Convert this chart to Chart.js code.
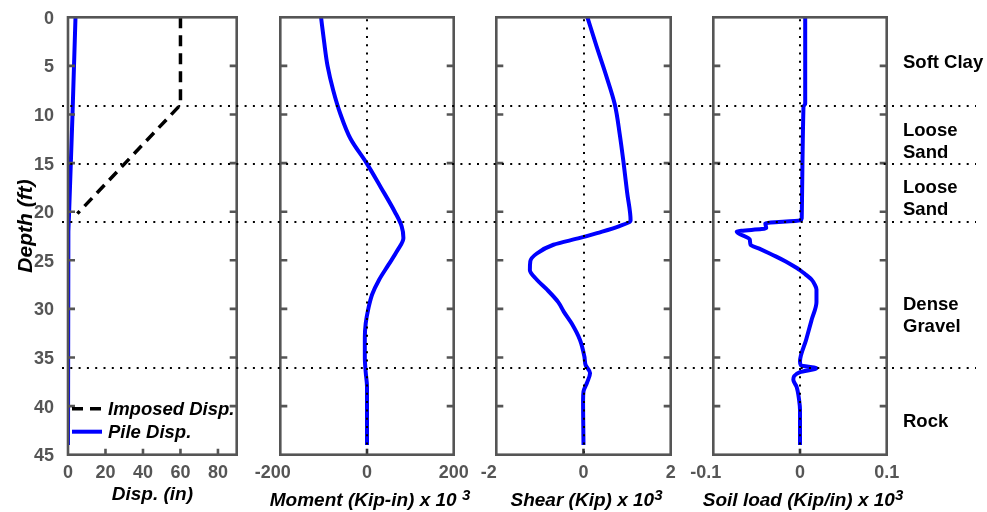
<!DOCTYPE html>
<html><head><meta charset="utf-8">
<script src="https://cdn.jsdelivr.net/npm/chart.js@4.4.1/dist/chart.umd.min.js"></script>
<style>
html,body{margin:0;padding:0;background:#fff;}
#wrap{position:relative;width:987px;height:512px;overflow:hidden;background:#fff;}
#wrap canvas{position:absolute;left:0;top:0;}
</style></head><body>
<div id="wrap">
<canvas id="c1" width="987" height="512"></canvas>
<canvas id="c2" width="987" height="512"></canvas>
<canvas id="c3" width="987" height="512"></canvas>
<canvas id="c4" width="987" height="512"></canvas>
</div>
<script>
// ---------- DATA ----------
const depthTicks = [0, 5, 10, 15, 20, 25, 30, 35, 40, 45];
const layerBounds = [9, 15, 21, 36];
const layerLabels = [['Soft Clay'], ['Loose', 'Sand'], ['Loose', 'Sand'], ['Dense', 'Gravel'], ['Rock']];
const layerLabelDepth = [4.6, 12.7, 18.6, 30.6, 41.5];

const dispTicks = [0, 20, 40, 60, 80];
const momentTicks = [-200, 0, 200];
const shearTicks = [-2, 0, 2];
const soilTicks = [-0.1, 0, 0.1];

const yTitle = 'Depth (ft)';
const xTitles = ['Disp. (in)', 'Moment (Kip-in) x 10 ', 'Shear (Kip) x 10', 'Soil load (Kip/in) x 10'];
const xTitleSups = ['', '3', '3', '3'];

const imposedDepth = [0, 9, 20.2];
const imposedDisp  = [60, 60, 5];

const pileDepth = [0, 5, 10, 15, 20, 22, 30, 44];
const pileDisp  = [4, 3.2, 2.4, 1.5, 0.6, 0.2, 0, 0];

const momentDepth = [0, 2.5, 5, 7.5, 10, 12.5, 15, 17.5, 20, 21.5, 22.7, 24, 25.5, 27, 28.5, 30, 31.5, 33, 35, 36.5, 38, 44];
const momentVal   = [-106, -99, -91, -78, -61, -38, -1, 32, 64, 80, 84, 70, 49, 28, 12, 3, -3, -5, -5, -3, 0, 0];

const shearDepth = [0, 3, 6, 9, 12, 15, 18, 20.9, 21.5, 22.2, 22.7, 23.4, 24.3, 25.1, 26, 27, 28, 29.3, 30.3, 31.5, 33.2, 34.9, 35.8, 36.6, 37.6, 38.5, 39.4, 44];
const shearVal   = [0.09, 0.3, 0.52, 0.72, 0.83, 0.92, 1.0, 1.08, 0.81, 0.31, -0.08, -0.69, -1.07, -1.22, -1.23, -1.07, -0.84, -0.58, -0.45, -0.27, -0.08, 0.02, 0.05, 0.15, 0.08, 0, -0.01, 0];

const soilDepth = [0, 8.9, 9.2, 20.7, 20.9, 21.2, 21.7, 22.05, 22.85, 23.4, 23.8, 24.3, 24.6, 25.1, 25.5, 26, 26.5, 27, 27.5, 28, 29.3, 31.1, 33.2, 35.4, 35.8, 36.1, 36.5, 37.3, 38, 39.4, 40.4, 44];
const soilVal   = [0.006, 0.006, 0.004, 0.002, 0, -0.040, -0.039, -0.073, -0.058, -0.057, -0.047, -0.035, -0.028, -0.017, -0.009, 0, 0.007, 0.0135, 0.017, 0.019, 0.019, 0.0135, 0.007, 0, 0.001, 0.019, 0, -0.0077, -0.004, -0.001, 0, 0];

// ---------- HELPERS ----------
const FONT = "'Liberation Sans', Arial, Helvetica, sans-serif";
const pts = (ds, vs) => ds.map((d, i) => ({x: vs[i], y: d}));
const BLUE = '#0000ff';
const TOP = 17.3, BOTTOM = 454.7, W = 987, H = 512;

const panels = [
  {id: 'c1', left: 68, right: 236.7, xMin: 0, xMax: 90, ticks: dispTicks, yAxis: true, zero: false,
   datasets: [
     {label: 'Imposed Disp.', data: pts(imposedDepth, imposedDisp), borderColor: '#000', borderWidth: 3.5, borderDash: [11, 7], tension: 0},
     {label: 'Pile Disp.', data: pts(pileDepth, pileDisp), borderColor: BLUE, borderWidth: 4, tension: 0}
   ]},
  {id: 'c2', left: 280.3, right: 453.7, xMin: -200, xMax: 200, ticks: momentTicks, zero: true,
   datasets: [{label: 'Moment', data: pts(momentDepth, momentVal), borderColor: BLUE, borderWidth: 4, cubicInterpolationMode: 'monotone'}]},
  {id: 'c3', left: 496.3, right: 670.7, xMin: -2, xMax: 2, ticks: shearTicks, zero: true,
   datasets: [{label: 'Shear', data: pts(shearDepth, shearVal), borderColor: BLUE, borderWidth: 4, cubicInterpolationMode: 'monotone'}]},
  {id: 'c4', left: 713.3, right: 886.7, xMin: -0.1, xMax: 0.1, ticks: soilTicks, zero: true,
   datasets: [{label: 'Soil load', data: pts(soilDepth, soilVal), borderColor: BLUE, borderWidth: 4, cubicInterpolationMode: 'monotone'}]}
];

const framePlugin = {
  id: 'frame',
  afterDatasetsDraw(chart, args, opts) {
    const {ctx, chartArea: a, scales: {x, y}} = chart;
    ctx.save();
    if (opts.zero) {
      ctx.strokeStyle = '#000'; ctx.lineWidth = 2; ctx.setLineDash([2, 6.3]);
      const px = Math.round(x.getPixelForValue(0));
      ctx.beginPath(); ctx.moveTo(px, a.top + 2); ctx.lineTo(px, a.bottom); ctx.stroke();
    }
    ctx.setLineDash([]);
    ctx.strokeStyle = '#555'; ctx.lineWidth = 2.6;
    ctx.beginPath();
    depthTicks.forEach(d => {
      if (d <= y.min || d >= y.max) return;
      const py = y.getPixelForValue(d);
      ctx.moveTo(a.left, py); ctx.lineTo(a.left + 7, py);
      ctx.moveTo(a.right, py); ctx.lineTo(a.right - 7, py);
    });
    ctx.stroke();
    ctx.strokeStyle = opts.zero ? '#333' : '#555';
    ctx.beginPath();
    x.ticks.forEach(t => {
      if (t.value <= x.min || t.value >= x.max) return;
      const px = x.getPixelForValue(t.value);
      ctx.moveTo(px, a.bottom); ctx.lineTo(px, a.bottom - 6);
    });
    ctx.stroke();
    ctx.strokeStyle = '#555';
    ctx.strokeRect(a.left, a.top, a.right - a.left, a.bottom - a.top);

    // x-axis title with optional superscript
    const main = opts.title, sup = opts.sup;
    ctx.fillStyle = '#000';
    ctx.textBaseline = 'alphabetic'; ctx.textAlign = 'left';
    ctx.font = `italic bold 19px ${FONT}`;
    const w1 = ctx.measureText(main).width;
    ctx.font = `italic bold 15px ${FONT}`;
    const w2 = sup ? ctx.measureText(sup).width : 0;
    const cx = (a.left + a.right) / 2 + (sup ? 3 : 0);
    const x0 = cx - (w1 + w2) / 2;
    const base = sup ? a.bottom + 51 : a.bottom + 45;
    ctx.font = `italic bold 19px ${FONT}`;
    ctx.fillText(main, x0, base);
    if (sup) {
      ctx.font = `italic bold 15px ${FONT}`;
      ctx.fillText(sup, x0 + w1, base - 6);
    }
    // y-axis title
    if (opts.yTitle) {
      ctx.save();
      ctx.translate(a.left - 42, (a.top + a.bottom) / 2 - 10);
      ctx.rotate(-Math.PI / 2);
      ctx.font = `italic bold 21px ${FONT}`;
      ctx.textAlign = 'center'; ctx.textBaseline = 'middle';
      ctx.fillText(opts.yTitle, 0, 0);
      ctx.restore();
    }
    ctx.restore();
  }
};

const legendPlugin = {
  id: 'inlegend',
  afterDraw(chart) {
    const {ctx, chartArea: a} = chart;
    ctx.save();
    ctx.font = `italic bold 18.5px ${FONT}`;
    ctx.textBaseline = 'middle';
    ctx.fillStyle = '#000';
    chart.data.datasets.forEach((ds, i) => {
      const yy = a.bottom - 46 + i * 23;
      ctx.strokeStyle = ds.borderColor; ctx.lineWidth = ds.borderWidth;
      ctx.setLineDash(ds.borderDash || []);
      ctx.beginPath(); ctx.moveTo(a.left + 4, yy); ctx.lineTo(a.left + 34, yy); ctx.stroke();
      ctx.setLineDash([]);
      ctx.fillText(ds.label, a.left + 40, yy + 1);
    });
    ctx.restore();
  }
};

const layerPlugin = {
  id: 'layers',
  afterDraw(chart) {
    const {ctx, scales: {y}} = chart;
    ctx.save();
    ctx.strokeStyle = '#000'; ctx.lineWidth = 2; ctx.setLineDash([2, 6.3]);
    ctx.beginPath();
    layerBounds.forEach(d => {
      const py = Math.round(y.getPixelForValue(d)) + 1;
      ctx.moveTo(panels[0].left - 6, py); ctx.lineTo(976, py);
    });
    ctx.stroke();
    ctx.setLineDash([]);
    ctx.fillStyle = '#000';
    ctx.font = `bold 18.5px ${FONT}`;
    ctx.textBaseline = 'middle'; ctx.textAlign = 'left';
    layerLabels.forEach((lines, i) => {
      const cy = y.getPixelForValue(layerLabelDepth[i]);
      const lh = 22;
      lines.forEach((t, j) => ctx.fillText(t, 903, cy + 1 + (j - (lines.length - 1) / 2) * lh));
    });
    ctx.restore();
  }
};

const zeroPad = s => { s.paddingTop = 0; s.paddingBottom = 0; s.paddingLeft = 0; s.paddingRight = 0; };
// negative labels sit a little left of their tick in the original figure
const xLabel = v => (v < 0 ? String(v) + '   ' : String(v));

panels.forEach((p, idx) => {
  const plugins = [framePlugin];
  if (idx === 0) plugins.push(legendPlugin);
  if (idx === panels.length - 1) plugins.push(layerPlugin);
  new Chart(document.getElementById(p.id), {
    type: 'line',
    data: {datasets: p.datasets.map(d => Object.assign({pointRadius: 0, fill: false, borderCapStyle: 'butt'}, d))},
    plugins,
    options: {
      responsive: false, animation: false, devicePixelRatio: 1,
      indexAxis: 'y',
      events: [],
      layout: {padding: {left: p.yAxis ? p.left - 68 : p.left, right: W - p.right, top: TOP, bottom: 0}},
      plugins: {legend: {display: false}, tooltip: {enabled: false},
        frame: {zero: p.zero, title: xTitles[idx], sup: xTitleSups[idx], yTitle: p.yAxis ? yTitle : ''}},
      scales: {
        x: {
          type: 'linear', position: 'bottom', min: p.xMin, max: p.xMax,
          afterBuildTicks: s => { s.ticks = p.ticks.map(v => ({value: v})); },
          afterFit: s => { s.height = H - BOTTOM; zeroPad(s); },
          grid: {display: false, drawTicks: false}, border: {display: false},
          ticks: {color: '#555', font: {family: FONT, size: 18, weight: 'bold'}, padding: 8, maxRotation: 0, autoSkip: false, callback: xLabel}
        },
        y: {
          type: 'linear', reverse: true, min: 0, max: 45, display: !!p.yAxis,
          afterBuildTicks: s => { s.ticks = depthTicks.map(v => ({value: v})); },
          afterFit: s => { if (p.yAxis) s.width = 68; zeroPad(s); },
          grid: {display: false, drawTicks: false}, border: {display: false},
          ticks: {color: '#555', font: {family: FONT, size: 18, weight: 'bold'}, padding: 14, labelOffset: 1.5, autoSkip: false}
        }
      }
    }
  });
});
</script>
</body></html>
